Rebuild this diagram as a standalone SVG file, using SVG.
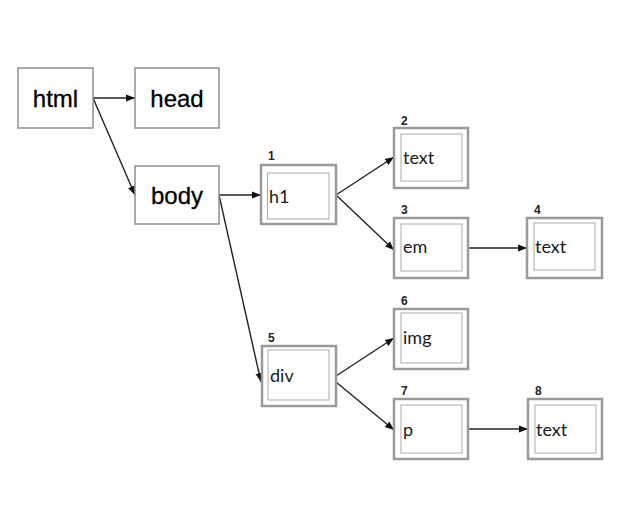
<svg xmlns="http://www.w3.org/2000/svg" width="629" height="512" viewBox="0 0 629 512">
<defs>
<marker id="ah" viewBox="0 0 10 10" refX="10" refY="5" markerWidth="9" markerHeight="9" markerUnits="userSpaceOnUse" orient="auto">
<path d="M0,1 L10,5 L0,9 z" fill="#111"/>
</marker>
</defs>
<style>
.sb{fill:#fff;stroke:#8f8f8f;stroke-width:1.5}
.ob{fill:#fff;stroke:#9a9a9a;stroke-width:2.5}
.ib{fill:none;stroke:#aaa;stroke-width:1}
.big{font-family:"Liberation Sans",Arial,sans-serif;font-size:24px;fill:#000;text-anchor:middle;stroke:#000;stroke-width:0.3}
.lbl{font-family:Lato,"Open Sans",sans-serif;font-size:18px;fill:#1a1a1a}
.num{font-family:"Liberation Sans",Arial,sans-serif;font-size:12px;font-weight:bold;fill:#222}
.c{stroke:#222;stroke-width:1.4;fill:none;marker-end:url(#ah)}
</style>
<rect width="629" height="512" fill="#fff"/>
<g id="connectors">
<line class="c" x1="93" y1="98" x2="135" y2="98"/>
<line class="c" x1="93" y1="98" x2="135" y2="195"/>
<line class="c" x1="219" y1="195" x2="261" y2="195"/>
<line class="c" x1="219" y1="195" x2="261" y2="382"/>
<line class="c" x1="336" y1="195" x2="394" y2="157"/>
<line class="c" x1="336" y1="195" x2="394" y2="250"/>
<line class="c" x1="468" y1="248" x2="527" y2="248"/>
<line class="c" x1="336" y1="376" x2="394" y2="338"/>
<line class="c" x1="336" y1="382" x2="394" y2="430"/>
<line class="c" x1="468" y1="429" x2="528" y2="429"/>
</g>
<g id="html"><rect class="sb" x="18" y="68" width="75" height="60"/><text class="big" x="55.5" y="107">html</text></g>
<g id="head"><rect class="sb" x="135" y="68" width="84" height="60"/><text class="big" x="177" y="107">head</text></g>
<g id="body"><rect class="sb" x="135" y="166" width="84" height="58"/><text class="big" x="177" y="204">body</text></g>
<g id="h1"><text class="num" x="268" y="160">1</text><rect class="ob" x="261" y="165" width="75" height="59"/><rect class="ib" x="267.5" y="173" width="61.5" height="46"/><text class="lbl" x="269" y="203">h1</text></g>
<g id="text2"><text class="num" x="401" y="125">2</text><rect class="ob" x="394" y="128" width="74" height="60"/><rect class="ib" x="401" y="134" width="61" height="47"/><text class="lbl" x="403" y="164">text</text></g>
<g id="em"><text class="num" x="401" y="214">3</text><rect class="ob" x="394" y="218" width="74" height="60"/><rect class="ib" x="401" y="224" width="61" height="47"/><text class="lbl" x="403" y="253">em</text></g>
<g id="text4"><text class="num" x="534" y="214">4</text><rect class="ob" x="527" y="218" width="75" height="60"/><rect class="ib" x="534" y="223" width="61" height="47"/><text class="lbl" x="535" y="253">text</text></g>
<g id="div"><text class="num" x="268" y="342">5</text><rect class="ob" x="262" y="346" width="74" height="60"/><rect class="ib" x="268" y="350" width="61" height="50"/><text class="lbl" x="270" y="382">div</text></g>
<g id="img"><text class="num" x="401" y="305">6</text><rect class="ob" x="394" y="309" width="74" height="60"/><rect class="ib" x="401" y="313" width="61" height="50"/><text class="lbl" x="403" y="344">img</text></g>
<g id="p"><text class="num" x="401" y="395">7</text><rect class="ob" x="394" y="399" width="74" height="60"/><rect class="ib" x="401" y="405" width="61" height="48"/><text class="lbl" x="403" y="436">p</text></g>
<g id="text8"><text class="num" x="535" y="395">8</text><rect class="ob" x="528" y="399" width="74" height="60"/><rect class="ib" x="535" y="405" width="61" height="48"/><text class="lbl" x="536" y="436">text</text></g>
</svg>
